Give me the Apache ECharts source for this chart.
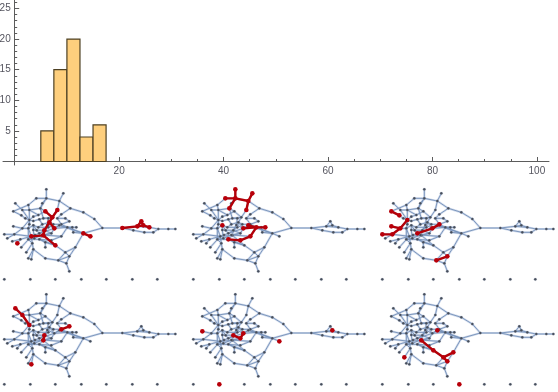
<!DOCTYPE html>
<html><head><meta charset="utf-8">
<style>html,body{margin:0;padding:0;background:#fff}#c{width:558px;height:392px}</style>
<script src="https://cdn.jsdelivr.net/npm/echarts@6/dist/echarts.min.js"></script>
</head><body><div id="c"></div>
<script>
// Histogram
const binEdges = [5, 7.5, 10, 12.5, 15, 17.5];
const binCounts = [5, 15, 20, 4, 6];
const xMajor = [20, 40, 60, 80, 100];
const xMinor = [5,10,15,25,30,35,45,50,55,65,70,75,85,90,95];
const yMajor = [5, 10, 15, 20, 25];
const yMinor = [1,2,3,4,6,7,8,9,11,12,13,14,16,17,18,19,21,22,23,24,26];
// Graph nodes
const nodeX = [307,283,250,211,178,190,139,139,109,85,88,67,46,40,64,76,88,121,127,136,157,172,172,148,163,133,130,94,166,184,208,196,184,202,229,217,178,220,250,271,226,196,208,199,208,175,136,100,85,94,79,97,64,52,37,22,13,43,40,67,61,85,118,136,136,184,154,118,100,85,115,118,100,88,130,160,110,145,105,154,367,400,433,460,475,505,526,412,424,430,448,13,91,166,244,319,397,472,100,127,145,115,100,127,103,142];
const nodeY = [129,102,82,70,48,25,40,13,40,60,75,75,55,79,91,100,105,70,55,79,97,75,100,112,130,136,151,154,181,118,109,100,88,127,127,127,121,142,145,154,187,202,214,235,259,226,220,193,220,223,202,175,187,175,169,160,148,148,124,130,163,163,163,172,187,154,145,145,121,130,127,103,108,118,100,118,136,127,150,166,129,136,142,142,132,132,132,124,109,121,127,283,283,283,283,283,283,283,135,118,100,90,95,150,160,120];
// Graph edges, as node index pairs
const edges = [[0,1],[1,2],[2,3],[3,4],[4,5],[4,6],[6,7],[6,8],[8,9],[9,10],[10,11],[11,12],[11,16],[13,14],[14,15],[15,16],[3,32],[4,21],[21,20],[20,19],[19,17],[17,18],[6,18],[10,17],[6,17],[0,38],[38,39],[38,33],[38,37],[38,40],[40,41],[41,42],[40,42],[42,43],[43,44],[41,45],[42,45],[43,45],[45,46],[46,47],[47,48],[47,49],[47,51],[50,51],[28,41],[26,28],[25,26],[26,27],[23,25],[20,23],[23,24],[51,27],[52,27],[53,60],[54,60],[55,57],[56,57],[57,27],[57,59],[58,59],[59,69],[59,16],[60,27],[61,27],[61,62],[62,26],[62,63],[63,64],[65,33],[33,34],[33,35],[35,37],[29,30],[29,36],[36,24],[24,33],[24,29],[33,36],[66,24],[25,66],[66,26],[67,24],[67,25],[67,76],[76,68],[68,69],[69,73],[73,16],[16,72],[72,71],[71,74],[74,20],[74,17],[70,68],[70,77],[77,25],[77,23],[22,32],[22,31],[31,30],[22,29],[23,75],[75,29],[78,27],[78,67],[65,79],[79,62],[63,28],[9,13],[69,27],[0,80],[80,87],[80,81],[81,82],[82,83],[83,84],[84,85],[85,86],[87,88],[87,89],[88,89],[89,90],[87,90],[90,84],[10,73],[69,61],[61,51],[98,68],[98,25],[98,104],[99,23],[99,70],[99,71],[100,20],[100,74],[100,105],[101,10],[101,19],[102,16],[102,101],[103,26],[103,104],[104,61],[105,25],[105,24],[65,103],[103,66],[62,28],[33,29],[38,36]];
// Highlighted part of each panel: edges and lone nodes
const panelRedEdges = [
 [[19,20],[20,21],[20,23],[23,24],[23,25],[25,26],[26,27],[26,28],[38,39],[80,87],[87,88],[87,89],[88,89],[89,90]],
 [[7,6],[6,8],[6,4],[4,5],[4,21],[6,17],[24,33],[33,34],[33,36],[33,65],[65,79],[79,62]],
 [[13,14],[58,59],[59,16],[56,57],[57,59],[67,24],[24,29],[45,42]],
 [[12,11],[11,16],[25,26],[29,30]],
 [[25,66],[66,24]],
 [[26,28],[28,41],[41,40],[41,42]]
];
const panelRedNodes = [[53],[68],[],[49],[58,39,89,92],[36,50,94]];
const panelLeft = [0,189,378,0,189,378];
const panelTop = [185,185,185,290,290,290];

const pts = nodeX.map((x,i)=>[x,nodeY[i]]);
const edgeData = list => list.map(([a,b])=>[nodeX[a],nodeY[a],nodeX[b],nodeY[b]]);
const segment = (color,width) => (p,api)=>{
  const s=api.coord([api.value(0),api.value(1)]), e=api.coord([api.value(2),api.value(3)]);
  return {type:'line',shape:{x1:s[0],y1:s[1],x2:e[0],y2:e[1]},style:{stroke:color,lineWidth:width,lineCap:'round'}};
};
const axisCol='#5c5c5c', labelCol='#55555f', font='Liberation Sans';
const HL=3.0, HR=549, VT=0, VB=165, X0=14.7, XS=5.222, Y0=161.5, YS=6.12;
const grids=[{left:HL,width:HR-HL,top:VT,height:VB-VT,outerBoundsMode:'none',containLabel:false}];
const xMin=(HL-X0)/XS, xMax=(HR-X0)/XS, yMin=(Y0-VB)/YS, yMax=(Y0-VT)/YS;
const xAxes=[
 {type:'value',position:'bottom',gridIndex:0,min:xMin,max:xMax,offset:Y0-VB,splitLine:{show:false},axisLine:{show:true,onZero:false,lineStyle:{color:axisCol,width:1}},
  axisTick:{show:true,inside:true,length:2.5,customValues:xMinor,lineStyle:{color:axisCol}},axisLabel:{show:false}},
 {type:'value',position:'bottom',gridIndex:0,min:xMin,max:xMax,offset:Y0-VB,splitLine:{show:false},axisLine:{show:false,onZero:false},
  axisTick:{show:true,inside:true,length:4.5,customValues:xMajor,lineStyle:{color:axisCol}},
  axisLabel:{show:true,customValues:xMajor,color:labelCol,fontFamily:font,fontSize:10,margin:5,hideOverlap:false,showMinLabel:true,showMaxLabel:true}}
];
const yAxes=[
 {type:'value',position:'left',gridIndex:0,min:yMin,max:yMax,offset:HL-X0,splitLine:{show:false},axisLine:{show:true,onZero:false,lineStyle:{color:axisCol,width:1}},
  axisTick:{show:true,inside:true,length:2.5,customValues:yMinor,lineStyle:{color:axisCol}},axisLabel:{show:false}},
 {type:'value',position:'left',gridIndex:0,min:yMin,max:yMax,offset:HL-X0,splitLine:{show:false},axisLine:{show:false,onZero:false},
  axisTick:{show:true,inside:true,length:4.5,customValues:yMajor,lineStyle:{color:axisCol}},
  axisLabel:{show:true,customValues:yMajor,color:labelCol,fontFamily:font,fontSize:10,margin:4,hideOverlap:false}}
];
const series=[{
  type:'custom',xAxisIndex:0,yAxisIndex:0,silent:true,animation:false,clip:false,
  data:binCounts.map((c,i)=>[binEdges[i],binEdges[i+1],c]),
  encode:{x:[0,1],y:2},
  renderItem:(p,api)=>{
    const a=api.coord([api.value(0),api.value(2)]), b=api.coord([api.value(1),0]);
    return {type:'rect',shape:{x:a[0],y:a[1],width:b[0]-a[0],height:b[1]-a[1]},style:{fill:'#fecf7d',stroke:'#4d4023',lineWidth:1.2}};
  }
}];
panelLeft.forEach((left,i)=>{
  grids.push({left:left,top:panelTop[i],width:185,height:105,outerBoundsMode:'none'});
  const g=grids.length-1;
  xAxes.push({type:'value',gridIndex:g,min:0,max:555,show:false});
  yAxes.push({type:'value',gridIndex:g,min:0,max:315,inverse:true,show:false});
  const base={xAxisIndex:xAxes.length-1,yAxisIndex:yAxes.length-1,silent:true,animation:false};
  series.push({...base,type:'custom',clip:false,data:edgeData(edges),renderItem:segment('rgba(180,197,225,0.6)',2.2),z:2});
  series.push({...base,type:'custom',clip:false,data:edgeData(edges),renderItem:segment('#7490b8',0.9),z:3});
  series.push({...base,type:'scatter',data:pts,symbolSize:2.7,itemStyle:{color:'#454d5a',borderColor:'rgba(170,180,200,0.5)',borderWidth:0.5,opacity:1},z:4});
  series.push({...base,type:'custom',clip:false,data:edgeData(panelRedEdges[i]),renderItem:segment('#b30008',2.4),z:5});
  const red=[...new Set([...panelRedEdges[i].flat(),...panelRedNodes[i]])].map(n=>pts[n]);
  series.push({...base,type:'scatter',data:red,symbolSize:4.6,itemStyle:{color:'#b8000a',opacity:1},z:6});
});
const chart=echarts.init(document.getElementById('c'),null,{renderer:'canvas'});
chart.setOption({animation:false,backgroundColor:'#fff',grid:grids,xAxis:xAxes,yAxis:yAxes,series:series});
</script></body></html>
